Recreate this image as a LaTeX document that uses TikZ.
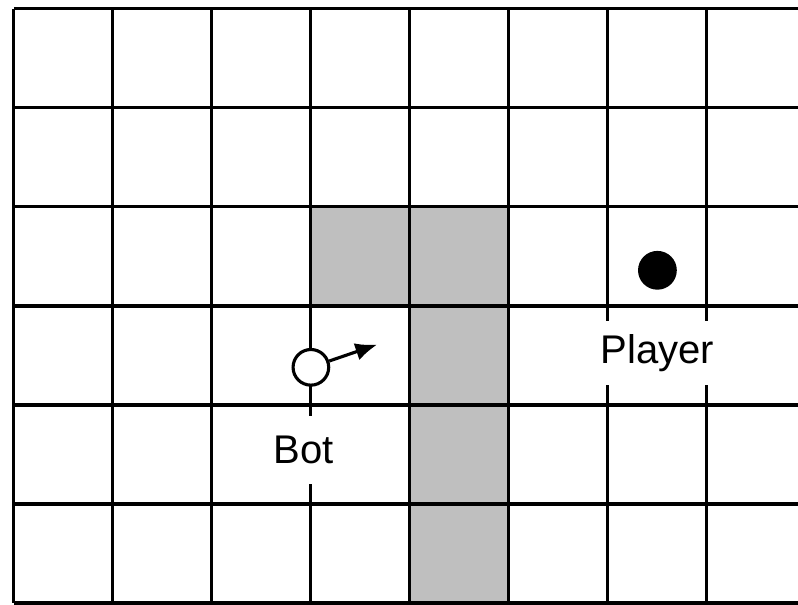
\documentclass[tikz,border=0pt]{standalone}
\usepackage{fontspec}
\setsansfont{Liberation Sans}
\usetikzlibrary{arrows.meta, positioning}
\definecolor{cwall}{gray}{0.75}
\tikzset{
  every picture/.style={font=\sffamily, line width=0.9pt},
  wall/.style={fill=cwall, draw=none},
  gridline/.style={draw=black, line width=0.9pt},
  tag/.style={fill=white, inner sep=2pt, font=\sffamily\fontsize{11.5}{13}\selectfont},
  agent/.style={circle, draw=black, line width=0.9pt, minimum size=0.36cm, inner sep=0pt},
  arrow/.style={-{Latex[length=2.2mm, width=1.8mm]}, draw=black, line width=0.9pt},
}
\begin{document}
\begin{tikzpicture}[x=1cm, y=1cm]
  \useasboundingbox (-0.14, -0.02) rectangle (7.92, 6.09);
  % walls
  \fill[wall] (3, 3) rectangle (4, 4);
  \fill[wall] (4, 0) rectangle (5, 4);
  % grid
  \foreach \i in {0,...,7} \draw[gridline] (\i, 0) -- (\i, 6);
  \foreach \j in {0,...,6} \draw[gridline] (0, \j) -- (7.92, \j);
  % labels
  \node[tag, minimum height=0.68cm] (botlabel) at (2.93, 1.545) {Bot};
  \node[tag, minimum height=0.64cm, minimum width=1.3cm] (playerlabel) at (6.5, 2.525) {Player};
  % agents
  \node[agent, fill=white] (bot) at (3, 2.38) {};
  \node[agent, fill=black] (player) at (6.5, 3.36) {};
  \coordinate (heading) at (3.67, 2.61);
  \draw[arrow] (bot) -- (heading);
\end{tikzpicture}
\end{document}
